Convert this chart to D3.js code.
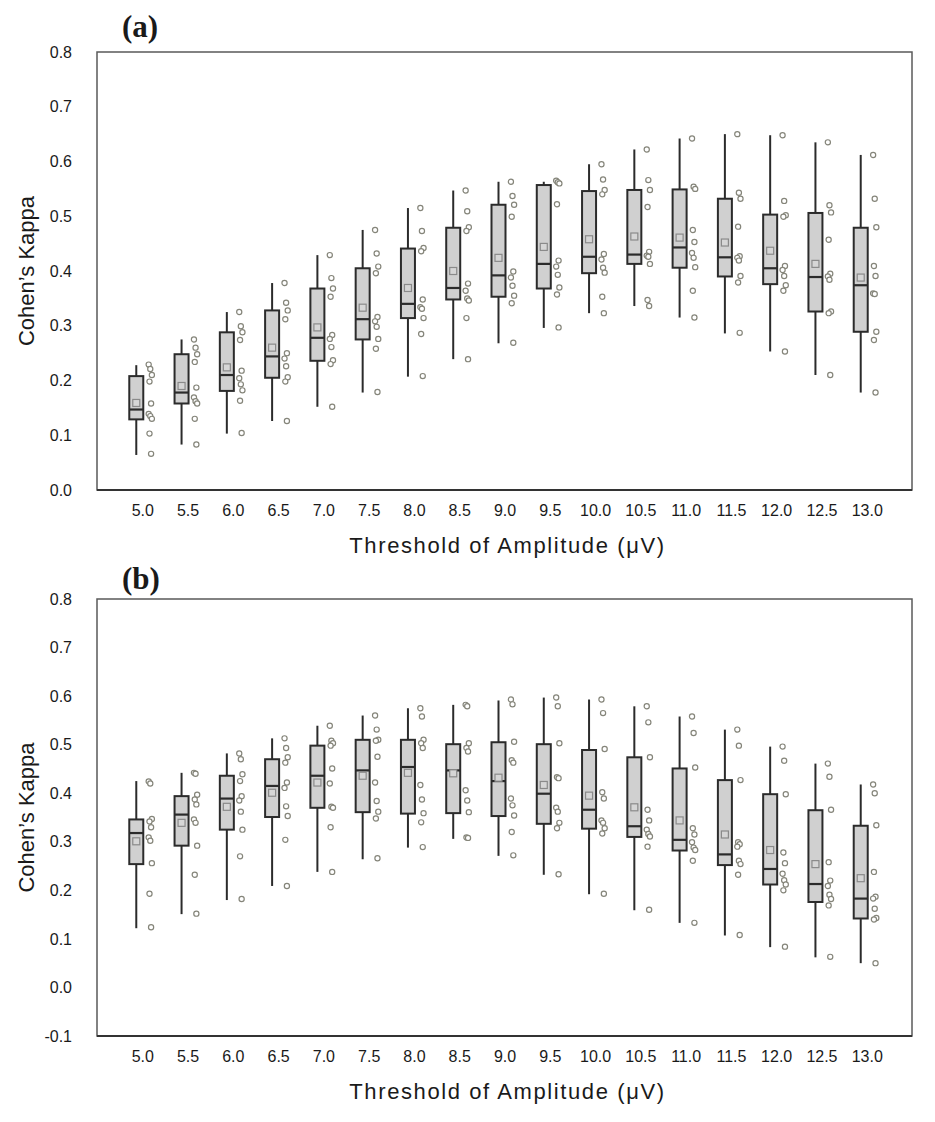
<!DOCTYPE html>
<html>
<head>
<meta charset="utf-8">
<script src="https://cdn.jsdelivr.net/npm/d3@7"></script>
<style>
  body { margin: 0; background: #fff; }
  text { fill: #1a1a1a; }
</style>
</head>
<body>
<div id="graph"></div>
<script>
// thresholds on the x axis
var thresholds = ["5.0","5.5","6.0","6.5","7.0","7.5","8.0","8.5","9.0","9.5","10.0","10.5","11.0","11.5","12.0","12.5","13.0"];

// ---- panel (a) ----
var aLow    = [0.064,0.083,0.103,0.126,0.152,0.178,0.207,0.239,0.268,0.296,0.323,0.336,0.315,0.286,0.253,0.210,0.178];
var aQ1     = [0.129,0.158,0.181,0.205,0.236,0.275,0.314,0.348,0.353,0.368,0.396,0.413,0.406,0.390,0.376,0.326,0.289];
var aMedian = [0.147,0.178,0.210,0.244,0.278,0.312,0.340,0.369,0.392,0.413,0.426,0.430,0.443,0.425,0.405,0.389,0.374];
var aQ3     = [0.208,0.248,0.288,0.328,0.368,0.405,0.441,0.479,0.521,0.557,0.546,0.548,0.549,0.532,0.503,0.506,0.479];
var aHigh   = [0.228,0.275,0.325,0.378,0.429,0.475,0.515,0.547,0.563,0.563,0.595,0.622,0.642,0.650,0.648,0.635,0.612];
var aMean   = [0.159,0.190,0.224,0.260,0.297,0.333,0.369,0.400,0.424,0.444,0.458,0.463,0.461,0.452,0.437,0.413,0.388];
var aPoints = [
  [0.229,0.221,0.210,0.198,0.158,0.139,0.135,0.130,0.103,0.066],
  [0.275,0.260,0.248,0.234,0.187,0.169,0.162,0.158,0.130,0.083],
  [0.325,0.299,0.288,0.274,0.218,0.204,0.193,0.182,0.163,0.104],
  [0.378,0.342,0.328,0.312,0.250,0.240,0.226,0.206,0.198,0.126],
  [0.429,0.387,0.368,0.353,0.283,0.276,0.261,0.237,0.230,0.152],
  [0.475,0.432,0.408,0.396,0.316,0.308,0.298,0.276,0.258,0.179],
  [0.515,0.473,0.442,0.436,0.348,0.334,0.331,0.314,0.285,0.208],
  [0.547,0.509,0.480,0.473,0.377,0.364,0.350,0.346,0.314,0.239],
  [0.563,0.537,0.521,0.499,0.399,0.388,0.373,0.355,0.341,0.269],
  [0.565,0.562,0.560,0.522,0.419,0.408,0.393,0.370,0.357,0.297],
  [0.595,0.567,0.548,0.540,0.431,0.421,0.406,0.397,0.353,0.323],
  [0.622,0.566,0.548,0.517,0.435,0.428,0.426,0.413,0.347,0.336],
  [0.642,0.554,0.550,0.475,0.453,0.433,0.424,0.407,0.364,0.315],
  [0.650,0.543,0.532,0.481,0.427,0.424,0.419,0.391,0.379,0.287],
  [0.648,0.528,0.502,0.499,0.409,0.402,0.391,0.374,0.364,0.253],
  [0.635,0.520,0.507,0.457,0.395,0.390,0.384,0.326,0.323,0.210],
  [0.612,0.532,0.480,0.409,0.391,0.359,0.358,0.289,0.274,0.178]
];
var aTicks = [0.0,0.1,0.2,0.3,0.4,0.5,0.6,0.7,0.8];

// ---- panel (b) ----
var bLow    = [0.122,0.151,0.180,0.209,0.238,0.264,0.288,0.306,0.271,0.232,0.192,0.159,0.133,0.107,0.083,0.062,0.050];
var bQ1     = [0.254,0.292,0.325,0.351,0.370,0.361,0.358,0.359,0.353,0.337,0.327,0.310,0.282,0.252,0.212,0.176,0.142];
var bMedian = [0.318,0.356,0.389,0.415,0.436,0.447,0.454,0.447,0.425,0.399,0.366,0.332,0.304,0.274,0.244,0.213,0.183];
var bQ3     = [0.346,0.394,0.436,0.470,0.498,0.510,0.510,0.501,0.505,0.501,0.489,0.474,0.451,0.427,0.398,0.365,0.333];
var bHigh   = [0.425,0.442,0.482,0.513,0.539,0.560,0.575,0.582,0.591,0.597,0.593,0.579,0.558,0.531,0.496,0.461,0.418];
var bMean   = [0.301,0.339,0.372,0.401,0.422,0.436,0.442,0.441,0.432,0.417,0.395,0.371,0.344,0.315,0.283,0.254,0.225];
var bPoints = [
  [0.424,0.420,0.347,0.342,0.330,0.309,0.302,0.256,0.193,0.124],
  [0.442,0.440,0.397,0.387,0.377,0.346,0.339,0.292,0.232,0.152],
  [0.482,0.470,0.439,0.425,0.394,0.385,0.362,0.325,0.270,0.182],
  [0.513,0.493,0.474,0.463,0.422,0.411,0.373,0.353,0.304,0.209],
  [0.539,0.508,0.503,0.498,0.451,0.420,0.372,0.370,0.330,0.238],
  [0.560,0.531,0.510,0.508,0.475,0.422,0.384,0.362,0.348,0.266],
  [0.575,0.558,0.510,0.503,0.493,0.417,0.387,0.359,0.340,0.289],
  [0.582,0.579,0.503,0.493,0.486,0.406,0.385,0.361,0.309,0.308],
  [0.593,0.583,0.506,0.468,0.463,0.389,0.375,0.354,0.320,0.272],
  [0.597,0.579,0.503,0.433,0.431,0.370,0.362,0.339,0.328,0.233],
  [0.593,0.565,0.491,0.402,0.389,0.344,0.339,0.328,0.317,0.193],
  [0.579,0.546,0.474,0.366,0.344,0.325,0.316,0.311,0.290,0.160],
  [0.558,0.524,0.453,0.328,0.315,0.299,0.288,0.283,0.261,0.133],
  [0.531,0.498,0.427,0.299,0.295,0.290,0.261,0.254,0.232,0.108],
  [0.496,0.467,0.398,0.278,0.256,0.234,0.221,0.212,0.200,0.084],
  [0.461,0.434,0.366,0.258,0.220,0.209,0.191,0.182,0.169,0.063],
  [0.418,0.400,0.334,0.238,0.187,0.183,0.162,0.143,0.140,0.050]
];
var bTicks = [-0.1,0.0,0.1,0.2,0.3,0.4,0.5,0.6,0.7,0.8];

var W = 935, H = 1122;
var sans = "'Liberation Sans', Arial, sans-serif";
var serif = "'Liberation Serif', 'Times New Roman', serif";

var svg = d3.select("#graph").append("svg")
    .attr("width", W)
    .attr("height", H);

svg.append("rect").attr("width", W).attr("height", H).attr("fill", "#fff");

// one box-plot panel
function drawPanel(opt) {
    var left = 97, right = 912;
    var x = d3.scalePoint().domain(thresholds).range([left, right]).padding(1);
    var y = d3.scaleLinear().domain([opt.ticks[0], opt.ticks[opt.ticks.length - 1]])
        .range([opt.bottom, opt.top]);

    var g = svg.append("g");

    // frame
    g.append("rect")
        .attr("x", left).attr("y", opt.top)
        .attr("width", right - left).attr("height", opt.bottom - opt.top)
        .attr("fill", "none").attr("stroke", "#5a5a5a").attr("stroke-width", 1.5);
    g.append("line")
        .attr("x1", left).attr("x2", right)
        .attr("y1", opt.bottom).attr("y2", opt.bottom)
        .attr("stroke", "#333").attr("stroke-width", 2);

    // y axis labels (plain hyphen for negatives, as in the figure)
    var yAxis = d3.axisLeft(y).tickValues(opt.ticks).tickSize(0).tickPadding(25)
        .tickFormat(function(d) { return d.toFixed(1); });
    var ya = g.append("g").attr("transform", "translate(" + left + ",0)").call(yAxis);
    ya.select(".domain").remove();
    ya.selectAll("text").attr("font-size", 16).style("font-family", sans);

    // x axis labels
    var xAxis = d3.axisBottom(x).tickSize(0).tickPadding(15);
    var xa = g.append("g").attr("transform", "translate(0," + opt.bottom + ")").call(xAxis);
    xa.select(".domain").remove();
    xa.selectAll("text").attr("font-size", 16).style("font-family", sans);

    // axis titles
    g.append("text")
        .attr("transform", "translate(34," + ((opt.top + opt.bottom) / 2) + ") rotate(-90)")
        .attr("text-anchor", "middle")
        .attr("font-size", 22)
        .style("font-family", sans)
        .text("Cohen\u2019s Kappa");
    g.append("text")
        .attr("x", (left + right) / 2 + 3)
        .attr("y", opt.bottom + 63)
        .attr("text-anchor", "middle")
        .attr("font-size", 22)
        .attr("letter-spacing", 1.6)
        .style("font-family", sans)
        .text("Threshold of Amplitude (\u03bcV)");

    // panel letter
    g.append("text")
        .attr("x", 122).attr("y", opt.letterY)
        .attr("font-weight", "bold")
        .attr("font-size", 31)
        .style("font-family", serif)
        .text(opt.letter);

    var boxW = 14, boxShift = -6, ptShift = 8;

    var cat = g.selectAll("g.cat")
        .data(thresholds)
        .enter().append("g")
        .attr("class", "cat")
        .attr("transform", function(d) { return "translate(" + x(d) + ",0)"; });

    // whiskers
    cat.append("line")
        .attr("x1", boxShift).attr("x2", boxShift)
        .attr("y1", function(d, i) { return y(opt.low[i]); })
        .attr("y2", function(d, i) { return y(opt.high[i]); })
        .attr("stroke", "#2b2b2b").attr("stroke-width", 2);

    // boxes
    cat.append("rect")
        .attr("x", boxShift - boxW / 2)
        .attr("width", boxW)
        .attr("y", function(d, i) { return y(opt.q3[i]); })
        .attr("height", function(d, i) { return y(opt.q1[i]) - y(opt.q3[i]); })
        .attr("fill", "#d0d0d0").attr("stroke", "#2b2b2b").attr("stroke-width", 2);

    // medians
    cat.append("line")
        .attr("x1", boxShift - boxW / 2).attr("x2", boxShift + boxW / 2)
        .attr("y1", function(d, i) { return y(opt.median[i]); })
        .attr("y2", function(d, i) { return y(opt.median[i]); })
        .attr("stroke", "#2b2b2b").attr("stroke-width", 2.2);

    // mean markers
    cat.append("rect")
        .attr("x", boxShift - 3.5).attr("width", 7).attr("height", 7)
        .attr("y", function(d, i) { return y(opt.mean[i]) - 3.5; })
        .attr("fill", "#d6d6d6").attr("stroke", "#8a8a8a").attr("stroke-width", 1.2);

    // individual points beside the box
    cat.each(function(d, i) {
        d3.select(this).selectAll("circle")
            .data(opt.points[i])
            .enter().append("circle")
            .attr("cx", function(v, j) { return ptShift + ((j * 7) % 5 - 2) * 0.8; })
            .attr("cy", function(v) { return y(v); })
            .attr("r", 2.6)
            .attr("fill", "#fff")
            .attr("stroke", "#85857a")
            .attr("stroke-width", 1.2);
    });
}

drawPanel({letter: "(a)", letterY: 37, top: 52, bottom: 490, ticks: aTicks,
    low: aLow, q1: aQ1, median: aMedian, q3: aQ3, high: aHigh, mean: aMean, points: aPoints});
drawPanel({letter: "(b)", letterY: 589, top: 599, bottom: 1036, ticks: bTicks,
    low: bLow, q1: bQ1, median: bMedian, q3: bQ3, high: bHigh, mean: bMean, points: bPoints});
</script>
</body>
</html>
